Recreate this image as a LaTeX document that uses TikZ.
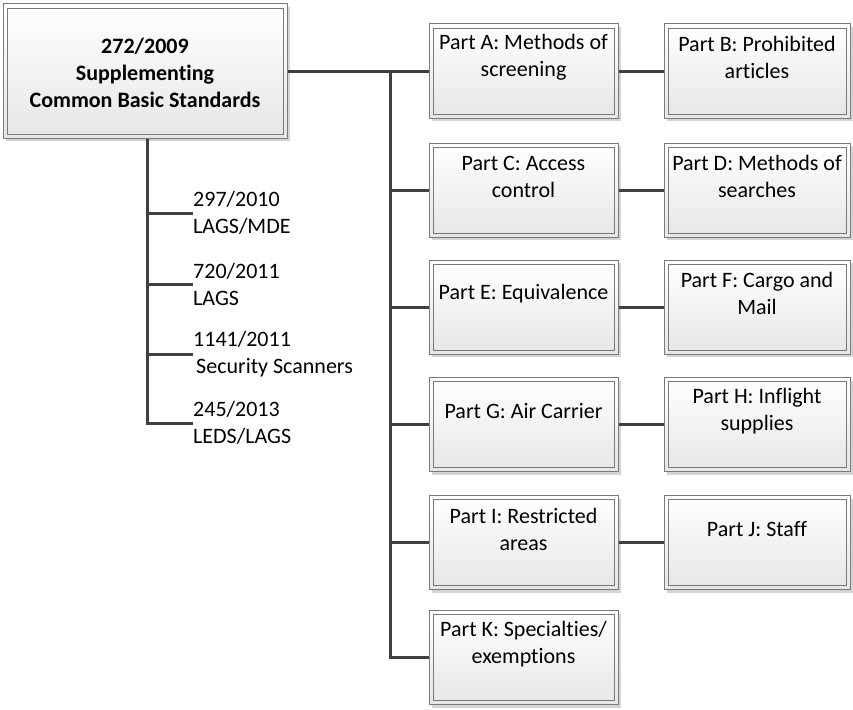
\documentclass[tikz,border=0pt]{standalone}
\usepackage{fontspec}
\setmainfont{Carlito}[Ligatures=NoCommon]
\usetikzlibrary{shadows}

\definecolor{linegray}{HTML}{404040}
\definecolor{boxedge}{HTML}{7A7A7A}
\definecolor{boxlow}{HTML}{E6E6E6}
\definecolor{shadowgray}{HTML}{D4D4D4}

\tikzset{
  conn/.style={draw=linegray, line width=3pt},
  boxouter/.style={rectangle, draw=boxedge, line width=1pt, inner sep=0pt,
    top color=white, bottom color=boxlow,
    drop shadow={shadow xshift=3pt, shadow yshift=-3pt, fill=shadowgray, opacity=1}},
  boxinner/.style={draw=boxedge, line width=0.9pt},
  boxtext/.style={align=center, inner sep=0pt, font=\fontsize{22}{27}\selectfont},
  reglabel/.style={anchor=west, align=left, inner sep=0pt, font=\fontsize{22}{27}\selectfont},
}

% name, centre x, centre y, width, height, text, text offset from top
\newcommand\docbox[7]{%
  \node[boxouter, minimum width=#4pt, minimum height=#5pt] (#1) at (#2,#3) {};
  \draw[boxinner] ([shift={(4.5pt,-4.5pt)}]#1.north west) rectangle ([shift={(-4.5pt,4.5pt)}]#1.south east);
  \node[boxtext] (#1-t) at ([yshift=-#7pt]#1.north) {#6};
}

\begin{document}
\begin{tikzpicture}[x=1pt, y=-1pt]
  \fill[white] (0,0) rectangle (853,709);
  \useasboundingbox (0,0) rectangle (853,709);

  % root regulation
  \docbox{main}{145}{71}{284}{134}{\bfseries 272/2009\\\bfseries Supplementing\\\bfseries Common Basic Standards}{69}

  % parts of the annex, two per row
  \docbox{A}{523.5}{71}{189}{94}{Part A: Methods of\\screening}{34}
  \docbox{B}{757}{71}{186}{94}{Part B: Prohibited\\articles}{34}
  \docbox{C}{523.5}{190}{189}{94}{Part C: Access\\control}{34}
  \docbox{D}{757}{190}{186}{94}{Part D: Methods of\\searches}{34}
  \docbox{E}{523.5}{307}{189}{94}{Part E: Equivalence}{34}
  \docbox{F}{757}{307}{186}{94}{Part F: Cargo and\\Mail}{34}
  \docbox{G}{523.5}{424.5}{189}{94}{Part G: Air Carrier}{34}
  \docbox{H}{757}{424.5}{186}{94}{Part H: Inflight\\supplies}{34}
  \docbox{I}{523.5}{542.5}{189}{94}{Part I: Restricted\\areas}{34}
  \docbox{J}{757}{542.5}{186}{94}{Part J: Staff}{34}
  \docbox{K}{523.5}{657.5}{189}{94}{Part K: Specialties/\\exemptions}{34}

  % amending regulations
  \node[reglabel] (m1) at (193,213) {297/2010\\LAGS/MDE};
  \node[reglabel] (m2) at (193,284) {720/2011\\LAGS};
  \node[reglabel] (m3) at (193,354) {1141/2011\\\hspace*{3pt}Security Scanners};
  \node[reglabel] (m4) at (193,423) {245/2013\\LEDS/LAGS};

  % connectors to the parts
  \coordinate (rt) at (390,71);
  \draw[conn] (main) -- (A);
  \draw[conn] (rt) |- (K);
  \foreach \p in {C,E,G,I} \draw[conn] (\p.west -| rt) -- (\p);
  \foreach \a/\b in {A/B,C/D,E/F,G/H,I/J} \draw[conn] (\a) -- (\b);

  % connectors to the amendments
  \coordinate (lt) at (147,0);
  \draw[conn] (main.south -| lt) |- (m4.west);
  \foreach \m in {m1,m2,m3} \draw[conn] (\m.west -| lt) -- (\m.west);
\end{tikzpicture}
\end{document}
